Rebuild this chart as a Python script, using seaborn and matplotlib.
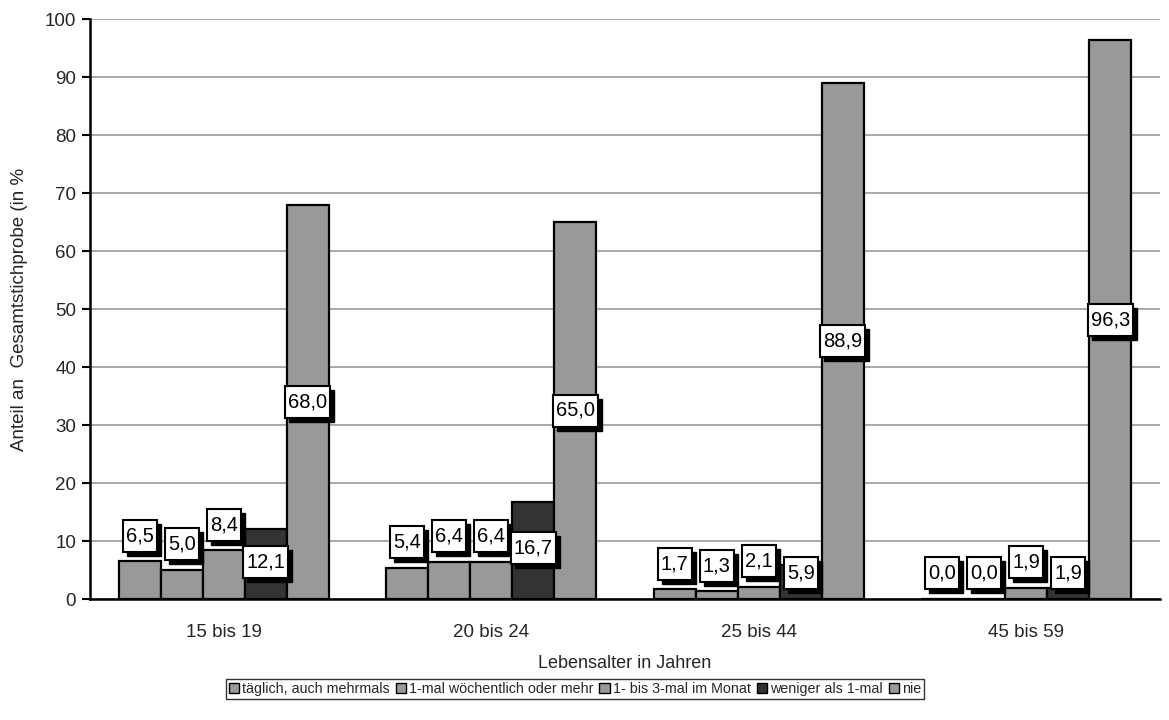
import matplotlib
matplotlib.use("Agg")
import matplotlib.pyplot as plt
from matplotlib.patches import Patch, Rectangle
from matplotlib.transforms import IdentityTransform
import seaborn as sns
import pandas as pd

# ---- data ----
age_groups = ["15 bis 19", "20 bis 24", "25 bis 44", "45 bis 59"]
series_names = ["täglich, auch mehrmals", "1-mal wöchentlich oder mehr",
                "1- bis 3-mal im Monat", "weniger als 1-mal", "nie"]
taeglich = [6.5, 5.4, 1.7, 0.0]
woechentlich = [5.0, 6.4, 1.3, 0.0]
monatlich = [8.4, 6.4, 2.1, 1.9]
seltener = [12.1, 16.7, 5.9, 1.9]
nie = [68.0, 65.0, 88.9, 96.3]
y_ticks = [0, 10, 20, 30, 40, 50, 60, 70, 80, 90, 100]

series_values = [taeglich, woechentlich, monatlich, seltener, nie]
rows = []
for name, vals in zip(series_names, series_values):
    for g, v in zip(age_groups, vals):
        rows.append({"Alter": g, "Haeufigkeit": name, "Wert": v})
df = pd.DataFrame(rows)

colors = ["#999999", "#999999", "#999999", "#333333", "#999999"]

sns.set_theme(style="white")
plt.rcParams["font.family"] = ["Liberation Sans", "DejaVu Sans"]

fig = plt.figure(figsize=(11.69, 7.2), dpi=100)
ax = fig.add_axes([90 / 1169, 1 - 599 / 720, (1160 - 90) / 1169, (599 - 19) / 720])

sns.barplot(data=df, x="Alter", y="Wert", hue="Haeufigkeit", order=age_groups,
            hue_order=series_names, palette=colors, width=0.785, gap=0,
            edgecolor="black", linewidth=1.6, saturation=1, legend=False, ax=ax,
            errorbar=None, zorder=3)

ax.set_ylim(0, 100)
ax.set_xlim(-0.5, len(age_groups) - 0.5)
ax.set_yticks(y_ticks)
ax.set_yticklabels([str(t) for t in y_ticks], fontsize=13.5)
ax.yaxis.grid(True, color="#999999", linewidth=1.2, zorder=0)
ax.set_axisbelow(True)

ax.set_xticks(range(len(age_groups)))
ax.set_xticklabels(age_groups, fontsize=13.5)
ax.set_xticks([i - 0.5 for i in range(len(age_groups) + 1)], minor=True)
ax.tick_params(axis="x", which="major", length=0, pad=18)
ax.tick_params(axis="x", which="minor", length=7, width=1.5, color="black", direction="out")
ax.tick_params(axis="y", which="major", length=6, width=1.5, color="black", direction="out", pad=4)
ax.tick_params(axis="both", bottom=True, left=True)

for s in ["top", "right"]:
    ax.spines[s].set_visible(False)
for s in ["left", "bottom"]:
    ax.spines[s].set_color("black")
    ax.spines[s].set_linewidth(1.8)

ax.set_xlabel("Lebensalter in Jahren", fontsize=13, labelpad=10)
ax.set_ylabel("Anteil an  Gesamtstichprobe (in %", fontsize=13.5, labelpad=12)

# data labels (text first, boxes built from measured text extents)
labels = []
for si, cont in enumerate(ax.containers):
    for bar in cont:
        h = bar.get_height()
        xc = bar.get_x() + bar.get_width() / 2
        if si < 3:
            yc = h + 4.4
        elif si == 3:
            yc = max(h / 2 + 0.4, 4.5)
        else:
            yc = h / 2
        txt = f"{h:.1f}".replace(".", ",")
        t = ax.text(xc, yc, txt, ha="center", va="center", fontsize=14.5,
                    color="black", zorder=8)
        labels.append(t)

fig.canvas.draw()
renderer = fig.canvas.get_renderer()
z = 6
for t in labels:
    bb = t.get_window_extent(renderer)
    cx = (bb.x0 + bb.x1) / 2
    cy = (bb.y0 + bb.y1) / 2
    w = bb.width + 6
    hgt = 32
    shadow = Rectangle((cx - w / 2 + 4, cy - hgt / 2 - 4), w, hgt, transform=IdentityTransform(),
                       facecolor="black", edgecolor="black", linewidth=1, zorder=z, clip_on=False)
    box = Rectangle((cx - w / 2, cy - hgt / 2), w, hgt, transform=IdentityTransform(),
                    facecolor="white", edgecolor="black", linewidth=1.5, zorder=z + 0.1, clip_on=False)
    fig.add_artist(shadow)
    fig.add_artist(box)
    t.set_zorder(z + 0.2)
    t.remove()
    fig.add_artist(t)
    t.set_transform(ax.transData)
    z += 0.3

handles = [Patch(facecolor=c, edgecolor="black", linewidth=1.0) for c in colors]
leg = fig.legend(handles, series_names, loc="center", bbox_to_anchor=(575 / 1169, 1 - 689 / 720),
                 ncol=5, fontsize=10.3, frameon=True, fancybox=False, handlelength=0.75,
                 handleheight=0.75, handletextpad=0.2, columnspacing=0.4, borderpad=0.2,
                 borderaxespad=0)
leg.get_frame().set_edgecolor("black")
leg.get_frame().set_linewidth(1.0)

fig.savefig("out.png", dpi=100, facecolor="white")
